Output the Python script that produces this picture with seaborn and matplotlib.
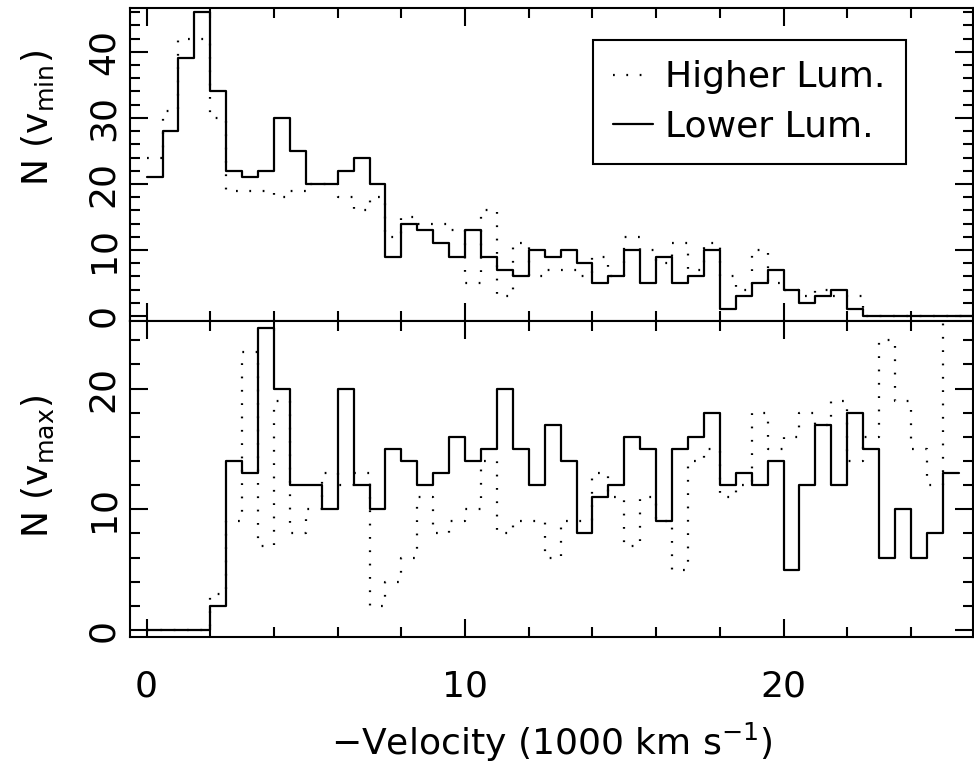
import numpy as np
import pandas as pd
import seaborn as sns
import matplotlib.pyplot as plt
from matplotlib.ticker import MultipleLocator

# === Data (counts per 500 km/s bin) ===
bin_width = 0.5

vmin_lower = [21, 28, 39, 46, 34, 22, 21, 22, 30, 25, 20, 20, 22, 24, 20, 9,
              14, 13, 11, 9, 13, 9, 7, 6, 10, 9, 10, 8, 5, 6, 10, 5,
              9, 5, 6, 10, 1, 3, 5, 7, 4, 2, 3, 4, 1, 0, 0, 0,
              0, 0, 0, 0]
vmin_higher = [24, 31, 42, 42, 30, 19, 19, 19, 18, 19, 20, 20, 18, 16, 18, 12,
               15, 14, 14, 13, 5, 16, 3, 11, 6, 7, 7, 6, 9, 6, 12, 10,
               8, 11, 7, 11, 6, 4, 10, 5, 4, 3, 4, 3, 3, 0, 0, 0,
               0, 0, 0, 0]

vmax_lower = [0, 0, 0, 0, 2, 14, 13, 25, 20, 12, 12, 10, 20, 12, 10, 15,
              14, 12, 13, 16, 14, 15, 20, 15, 12, 17, 14, 8, 11, 12, 16, 15,
              9, 15, 16, 18, 12, 13, 12, 14, 5, 12, 17, 12, 18, 15, 6, 10,
              6, 8, 13]
vmax_higher = [0, 0, 0, 0, 3, 9, 23, 7, 19, 8, 10, 13, 12, 13, 2, 4,
               6, 11, 8, 9, 10, 14, 8, 9, 9, 6, 9, 9, 13, 11, 7, 11,
               9, 5, 14, 15, 11, 12, 18, 15, 16, 18, 17, 19, 14, 16, 24, 19,
               15, 12, 26]

legend_labels = ["Higher Lum.", "Lower Lum."]


def step_frame(counts):
    # left bin edges plus closing edge, last value repeated for steps-post
    edges = np.arange(len(counts) + 1) * bin_width
    return pd.DataFrame({"x": edges, "y": list(counts) + [counts[-1]]})


# === Style ===
sns.set_style("ticks")
plt.rcParams["font.family"] = ["DejaVu Sans"]
plt.rcParams["mathtext.default"] = "regular"
plt.rcParams["text.color"] = "black"
plt.rcParams["axes.labelcolor"] = "black"
fs = 26
lw = 1.6
dotted = (0, (0.8, 5.2))

fig = plt.figure(figsize=(9.74, 7.75), dpi=100)
ax1 = fig.add_axes([0.1335, 0.5858, 0.8655, 0.4035])
ax2 = fig.add_axes([0.1335, 0.1785, 0.8655, 0.4073])

panels = [
    (ax1, vmin_higher, vmin_lower, (-0.76, 46.6), "N (v$_{min}$)", 0.65),
    (ax2, vmax_higher, vmax_lower, (-0.55, 25.6), "N (v$_{max}$)", 0.54),
]

for ax, hi, lo, ylim, ylab, ypos in panels:
    sns.lineplot(data=step_frame(hi), x="x", y="y", ax=ax, color="black",
                 lw=lw, linestyle=dotted, drawstyle="steps-post",
                 estimator=None, label=legend_labels[0])
    sns.lineplot(data=step_frame(lo), x="x", y="y", ax=ax, color="black",
                 lw=lw, drawstyle="steps-post", estimator=None,
                 label=legend_labels[1])
    ax.set_xlim(-0.52, 25.95)
    ax.set_ylim(*ylim)
    ax.xaxis.set_major_locator(MultipleLocator(10))
    ax.xaxis.set_minor_locator(MultipleLocator(2))
    ax.yaxis.set_major_locator(MultipleLocator(10))
    ax.yaxis.set_minor_locator(MultipleLocator(2))
    ax.tick_params(which="both", direction="in", top=True, right=True,
                   width=1.5, colors="black", labelsize=fs)
    ax.tick_params(which="major", length=13)
    ax.tick_params(which="minor", length=7)
    ax.tick_params(axis="y", labelrotation=90, pad=7)
    ax.tick_params(axis="x", pad=24)
    for t in ax.get_yticklabels():
        t.set_va("center")
    for s in ax.spines.values():
        s.set_linewidth(1.5)
        s.set_color("black")
    ax.set_ylabel(ylab, fontsize=fs)
    ax.yaxis.set_label_coords(-0.088, ypos)
    ax.set_xlabel("")

ax1.tick_params(axis="x", labelbottom=False)
ax2.get_legend().remove()
ax2.set_xlabel("\u2212Velocity (1000 km s$^{-1}$)", fontsize=fs, labelpad=12)

ax1.legend(loc="upper left", bbox_to_anchor=(0.549, 0.898), fontsize=fs,
           frameon=True, fancybox=False, edgecolor="black", framealpha=1,
           handlelength=1.1, handletextpad=0.35, borderpad=0.56,
           labelspacing=0.43, borderaxespad=0)
ax1.get_legend().get_frame().set_linewidth(1.5)

fig.savefig("out.png", dpi=100)
